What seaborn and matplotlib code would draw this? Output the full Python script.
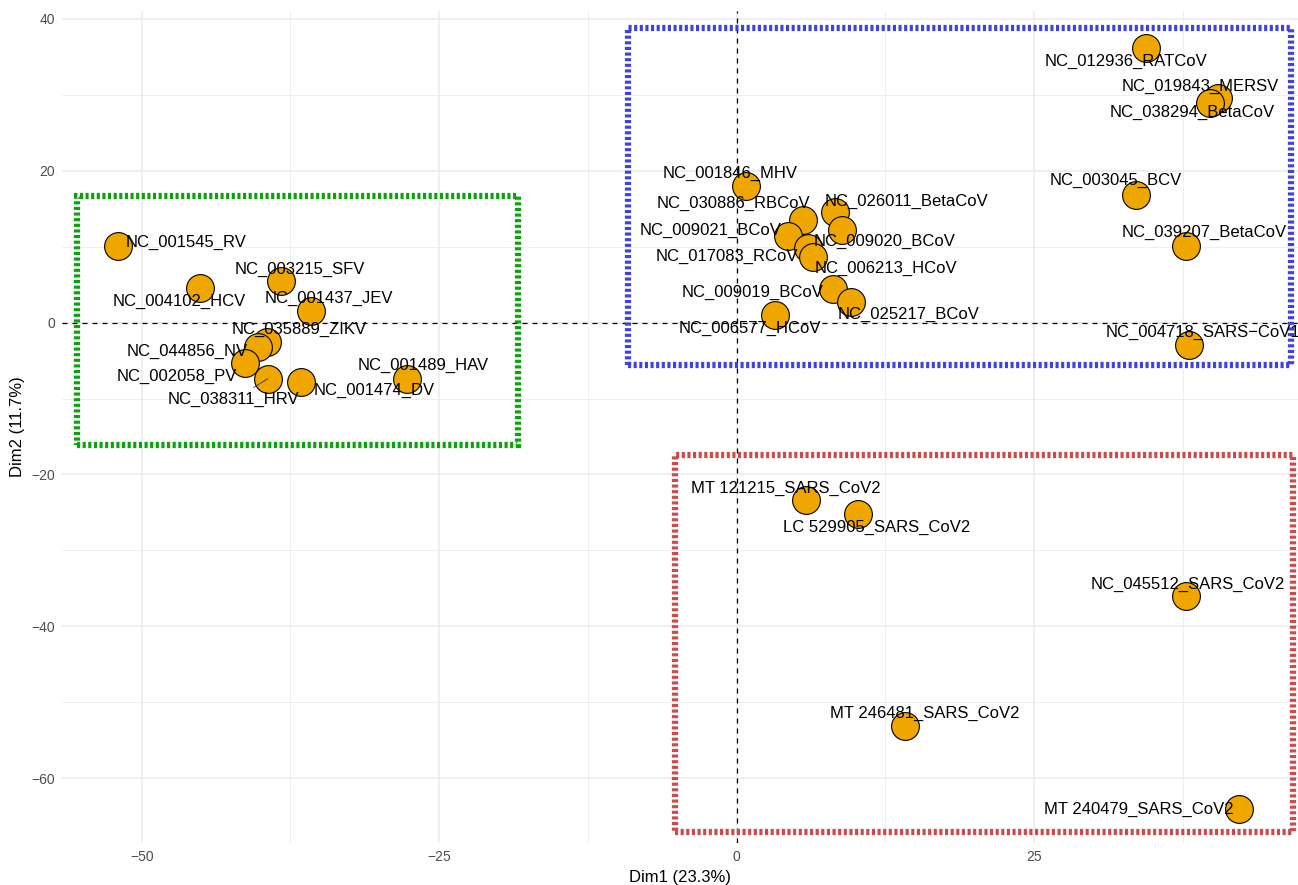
import matplotlib
matplotlib.use("Agg")
import matplotlib.pyplot as plt
from matplotlib.patches import Rectangle
import pandas as pd
import seaborn as sns

# PCA individual coordinates (Dim1, Dim2) per genome
genomes = [
    "NC_012936_RATCoV", "NC_019843_MERSV", "NC_038294_BetaCoV", "NC_003045_BCV",
    "NC_039207_BetaCoV", "NC_004718_SARS\u2212CoV1", "NC_001846_MHV", "NC_030886_RBCoV",
    "NC_026011_BetaCoV", "NC_009021_BCoV", "NC_009020_BCoV", "NC_017083_RCoV",
    "NC_006213_HCoV", "NC_009019_BCoV", "NC_025217_BCoV", "NC_006577_HCoV",
    "NC_001545_RV", "NC_004102_HCV", "NC_003215_SFV", "NC_001437_JEV",
    "NC_035889_ZIKV", "NC_044856_NV", "NC_002058_PV", "NC_038311_HRV",
    "NC_001474_DV", "NC_001489_HAV",
    "MT 121215_SARS_CoV2", "LC 529905_SARS_CoV2", "NC_045512_SARS_CoV2",
    "MT 246481_SARS_CoV2", "MT 240479_SARS_CoV2",
]
dim1 = [34.4, 40.5, 39.8, 33.6, 37.8, 38.0, 0.8, 5.6, 8.3, 4.3, 8.9, 6.0, 6.4, 8.1, 9.6, 3.2,
        -52.0, -45.1, -38.3, -35.8, -39.5, -40.2, -41.3, -39.4, -36.6, -27.7,
        5.8, 10.2, 37.8, 14.2, 42.2]
dim2 = [36.1, 29.6, 28.9, 16.8, 10.1, -2.9, 18.0, 13.5, 14.5, 11.4, 12.2, 9.8, 8.6, 4.4, 2.7, 1.0,
        10.1, 4.6, 5.4, 1.5, -2.5, -3.2, -5.3, -7.4, -7.8, -7.4,
        -23.3, -25.2, -36.0, -53.1, -64.0]

# Cluster outlines: (xmin, xmax, ymin, ymax, colour)
clusters = [
    (-55.4, -18.4, -16.1, 16.6, "#0AA30A"),
    (-9.1, 46.6, -5.6, 38.8, "#4141E0"),
    (-5.2, 46.8, -67.1, -17.5, "#CC4A4A"),
]

x_label = "Dim1 (23.3%)"
y_label = "Dim2 (11.7%)"

# Label placement relative to each point, in pixels (repel-style layout)
label_offsets = {
    "NC_012936_RATCoV": (-20, -13), "NC_019843_MERSV": (-18, 11), "NC_038294_BetaCoV": (-18, -9),
    "NC_003045_BCV": (-20, 14), "NC_039207_BetaCoV": (18, 13), "NC_004718_SARS\u2212CoV1": (14, 12),
    "NC_001846_MHV": (-16, 12), "NC_030886_RBCoV": (-70, 17), "NC_026011_BetaCoV": (71, 11),
    "NC_009021_BCoV": (-77, 5), "NC_009020_BCoV": (42, -12), "NC_017083_RCoV": (-81, -8),
    "NC_006213_HCoV": (73, -11), "NC_009019_BCoV": (-80, -3), "NC_025217_BCoV": (58, -12),
    "NC_006577_HCoV": (-25, -14), "NC_001545_RV": (68, 3), "NC_004102_HCV": (-21, -14),
    "NC_003215_SFV": (19, 12), "NC_001437_JEV": (18, 13), "NC_035889_ZIKV": (33, 12),
    "NC_044856_NV": (-71, -5), "NC_002058_PV": (-68, -14), "NC_038311_HRV": (-34, -21),
    "NC_001474_DV": (73, -9), "NC_001489_HAV": (16, 13),
    "MT 121215_SARS_CoV2": (-20, 11), "LC 529905_SARS_CoV2": (19, -13),
    "NC_045512_SARS_CoV2": (2, 12), "MT 246481_SARS_CoV2": (19, 13),
    "MT 240479_SARS_CoV2": (-100, -1),
}
segment_labels = {"NC_038311_HRV"}

df = pd.DataFrame({"name": genomes, "Dim1": dim1, "Dim2": dim2})

sns.set_style("white")
plt.rcParams["font.family"] = ["Liberation Sans", "DejaVu Sans"]

W, H = 1298, 885
fig = plt.figure(figsize=(W / 100, H / 100), dpi=100)
ax = fig.add_axes([62 / W, 42 / H, (W - 62) / W, (843 - 11) / H])

ax.set_xlim(-56.7, 47.2)
ax.set_ylim(-68.5, 41.0)

# grid
ax.set_xticks([-50, -25, 0, 25])
ax.set_xticks([-37.5, -12.5, 12.5, 37.5], minor=True)
ax.set_yticks([-60, -40, -20, 0, 20, 40])
ax.set_yticks([-50, -30, -10, 10, 30], minor=True)
ax.grid(True, which="major", color="#EBEBEB", linewidth=1.1, zorder=0)
ax.grid(True, which="minor", color="#EBEBEB", linewidth=0.55, zorder=0)
ax.set_axisbelow(True)
for sp in ax.spines.values():
    sp.set_visible(False)
ax.tick_params(which="major", length=2.7, width=0.9, color="#333333",
               labelsize=10, labelcolor="#4D4D4D", pad=2.5)
ax.tick_params(which="minor", length=0)

# reference lines
ax.axhline(0, color="black", linewidth=0.9, linestyle=(0, (4, 4)), zorder=1)
ax.axvline(0, color="black", linewidth=0.9, linestyle=(0, (4, 4)), zorder=1)

# cluster rectangles
for x0, x1, y0, y1, col in clusters:
    ax.add_patch(Rectangle((x0, y0), x1 - x0, y1 - y0, fill=False, edgecolor=col,
                           linewidth=4.5, linestyle=(0, (0.5, 0.4)), zorder=2))

sns.scatterplot(data=df, x="Dim1", y="Dim2", s=400, color="#EFA700",
                edgecolor="black", linewidth=0.8, ax=ax, zorder=3, legend=False)

for name, xv, yv in zip(genomes, dim1, dim2):
    dx, dy = label_offsets[name]
    kw = {}
    if name in segment_labels:
        kw["arrowprops"] = dict(arrowstyle="-", color="#333333", lw=0.6,
                                shrinkA=2, shrinkB=0)
    ax.annotate(name, (xv, yv), xytext=(dx, dy), textcoords="offset pixels",
                ha="center", va="center", fontsize=12, color="black", zorder=4, **kw)

ax.set_xlabel(x_label, fontsize=12, color="black", labelpad=4)
ax.set_ylabel(y_label, fontsize=12, color="black", labelpad=4)

fig.savefig("out.png", dpi=100)
